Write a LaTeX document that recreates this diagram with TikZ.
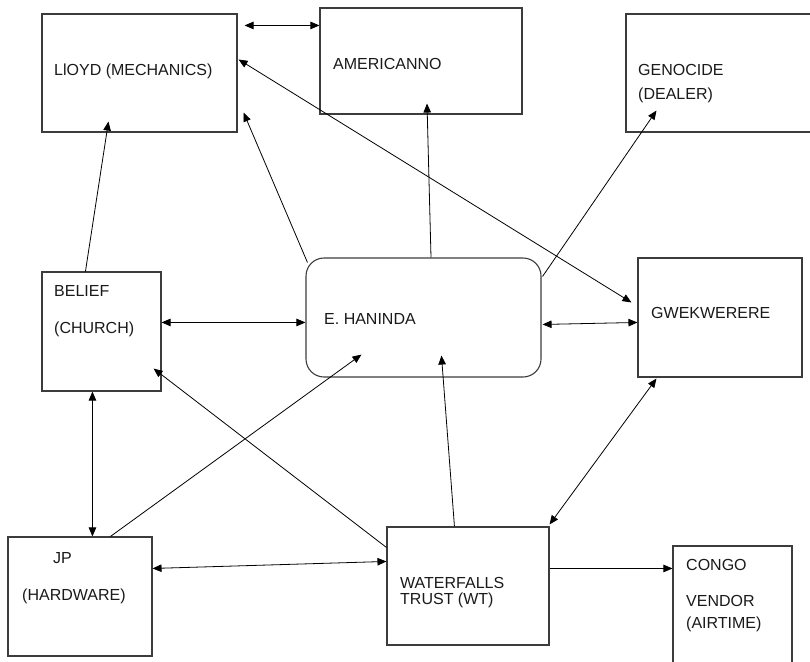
\documentclass[tikz,border=0pt]{standalone}
\usepackage{fontspec}
\setmainfont{Liberation Sans}
\usetikzlibrary{arrows.meta}
\definecolor{boxline}{HTML}{3C3C3C}
\definecolor{txt}{HTML}{1A1A1A}
\begin{document}
\begin{tikzpicture}[x=1pt,y=-1pt,
  box/.style={draw=boxline,line width=1.1pt,rectangle,inner sep=0pt,fill=white},
  rbox/.style={box,rounded corners=18pt},
  lbl/.style={anchor=base west,inner sep=0pt,text=txt,font=\fontsize{16}{18}\selectfont},
  conn/.style={line width=0.8pt,draw=black},
  tip/.style={-{Triangle[length=9pt,width=7.5pt]}},
  both/.style={{Triangle[length=9pt,width=7.5pt]}-{Triangle[length=9pt,width=7.5pt]}}
]
\clip (0,0) rectangle (810,661);
\fill[white] (0,0) rectangle (810,661);
% boxes
\node[box,minimum width=195pt,minimum height=118pt] (lloyd) at (139.5,73) {};
\node[box,minimum width=202pt,minimum height=106pt] (amer) at (421,61) {};
\node[box,minimum width=204pt,minimum height=118pt] (geno) at (728,73) {};
\node[box,minimum width=119pt,minimum height=119pt] (belief) at (101.5,331.5) {};
\node[rbox,minimum width=235pt,minimum height=119pt] (han) at (423.5,317.5) {};
\node[box,minimum width=164pt,minimum height=119pt] (gwek) at (720,317.5) {};
\node[box,minimum width=144pt,minimum height=119pt] (jp) at (80,596.5) {};
\node[box,minimum width=162pt,minimum height=118pt] (wt) at (468,586) {};
\node[box,minimum width=119pt,minimum height=134pt] (congo) at (732.5,613) {};
% labels
\node[lbl] (lloydt) at (54,75.5) {LlOYD (MECHANICS)};
\node[lbl] (amert) at (333,69) {AMERICANNO};
\node[lbl] (genot1) at (638,75) {GENOCIDE};
\node[lbl] (genot2) at (638,99) {(DEALER)};
\node[lbl] (belieft1) at (54,296.5) {BELIEF};
\node[lbl] (belieft2) at (54,333.5) {(CHURCH)};
\node[lbl] (hant) at (324,324) {E. HANINDA};
\node[lbl] (gwekt) at (651,318.5) {GWEKWERERE};
\node[lbl] (jpt1) at (53,563) {JP};
\node[lbl] (jpt2) at (22,600) {(HARDWARE)};
\node[lbl] (wtt1) at (400,588.5) {WATERFALLS};
\node[lbl] (wtt2) at (400,604.5) {TRUST (WT)};
\node[lbl] (congot1) at (686,570) {CONGO};
\node[lbl] (congot2) at (686,606) {VENDOR};
\node[lbl] (congot3) at (686,628.5) {(AIRTIME)};
% connectors
\draw[conn,both] ([xshift=7pt,yshift=-12pt]lloyd.north east) -- ([yshift=-18pt]amer.north west);
\draw[conn,both] ([xshift=1pt,yshift=-46pt]lloyd.north east) -- ([xshift=-6pt,yshift=-45pt]gwek.north west);
\draw[conn,tip] ([xshift=2pt,yshift=-5pt]han.north west) -- ([xshift=6pt,yshift=20pt]lloyd.south east);
\draw[conn,tip] ([xshift=44pt]belief.north west) -- ([xshift=67pt,yshift=11pt]lloyd.south west);
\draw[conn,tip] ([xshift=7.5pt]han.north) -- ([xshift=6pt,yshift=11pt]amer.south);
\draw[conn,tip] ([xshift=1pt,yshift=-19pt]han.north east) -- ([xshift=31pt,yshift=22pt]geno.south west);
\draw[conn,both] ([yshift=-51pt]belief.north east) -- ([yshift=-65pt]han.north west);
\draw[conn,both] ([xshift=1pt,yshift=-67pt]han.north east) -- ([yshift=-65pt]gwek.north west);
\draw[conn,tip] ([yshift=-21pt]wt.north west) -- ([xshift=-8pt,yshift=23pt]belief.south east);
\draw[conn,tip] ([xshift=103pt]jp.north west) -- ([xshift=56pt,yshift=23pt]han.south west);
\draw[conn,both] ([xshift=51pt]belief.south west) -- ([xshift=85pt]jp.north west);
\draw[conn,both] ([yshift=-32pt]jp.north east) -- ([yshift=-35pt]wt.north west);
\draw[conn,tip] ([xshift=68pt]wt.north west) -- ([xshift=136pt,yshift=22pt]han.south west);
\draw[conn,both] ([yshift=2pt]wt.north east) -- ([xshift=19pt,yshift=-1pt]gwek.south west);
\draw[conn,tip] ([yshift=-42pt]wt.north east) -- ([yshift=-23pt]congo.north west);
\end{tikzpicture}
\end{document}
